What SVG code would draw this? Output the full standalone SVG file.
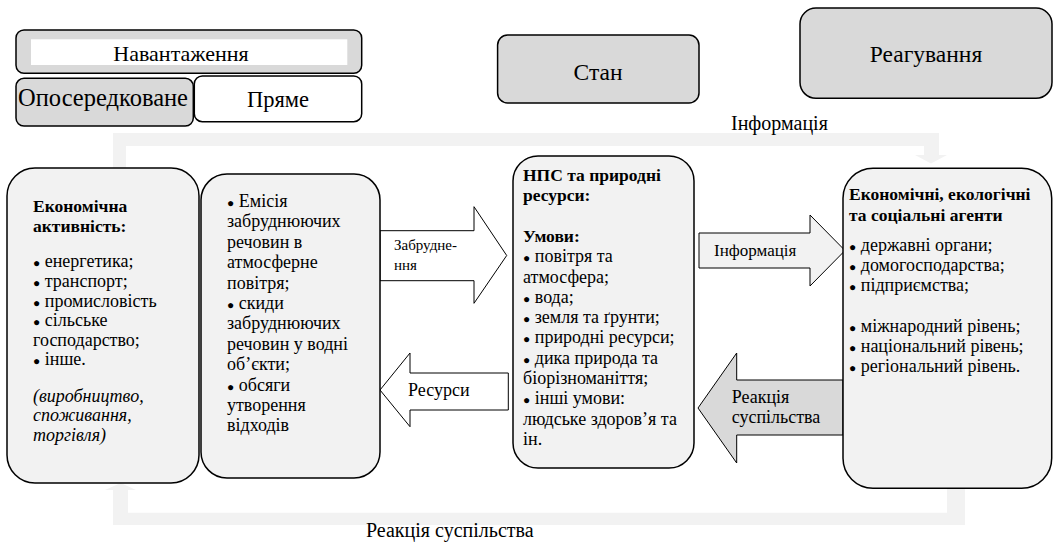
<svg xmlns="http://www.w3.org/2000/svg" width="1054" height="545" viewBox="0 0 1054 545" font-family="Liberation Serif, Times New Roman, serif">
<style>
.bx{fill:#f2f2f2;stroke:#000;stroke-width:1.5}
.gr{fill:#d9d9d9;stroke:#000;stroke-width:1.5}
.wh{fill:#fff;stroke:#000;stroke-width:1.5}
.ar{stroke:#000;stroke-width:1}
.con{fill:#f2f2f2;stroke:none}
.t{font-size:18px}
.bd{font-weight:bold;font-size:17.5px}
.it{font-style:italic}
.b{font-size:12px}
.h{text-anchor:middle}
</style>
<g id="connectors">
<path class="con" d="M113,133 H939 V155 H947 L931,163.5 L915,155 H924 V146 H126 V172 H113 Z"/>
<path class="con" d="M113,525 H965 V488 H947 V512.7 H128 V490 H136 L120.7,483 L105,490 H113 Z"/>
<text x="731" y="130" font-size="20">Інформація</text>
<text x="366" y="537" font-size="20">Реакція суспільства</text>
<g id="arrow-pollution">
<polygon class="ar" fill="#fff" points="380,230.7 474,230.7 474,206.7 506.7,255.5 474,303.3 474,280.7 380,280.7"/>
<text x="394" y="250" font-size="15">Забрудне-</text>
<text x="394" y="270" font-size="15">ння</text>
</g>
<g id="arrow-resources">
<polygon class="ar" fill="#fff" points="508.3,373 410,373 410,353 380,390 410,426.7 410,410 508.3,410"/>
<text class="t" x="408" y="396">Ресурси</text>
</g>
<g id="arrow-info">
<polygon class="ar" fill="#f2f2f2" points="699,233 810,233 810,215 845,250.5 810,286 810,268 699,268"/>
<text x="714" y="256" font-size="17">Інформація</text>
</g>
<g id="arrow-reaction">
<polygon class="ar" fill="#d9d9d9" points="843,380 736.7,380 736.7,353 698,408 736.7,463 736.7,435 843,435"/>
<text class="t" x="731.7" y="403">Реакція</text>
<text class="t" x="731.7" y="423">суспільства</text>
</g>
</g>
<g id="load">
<rect class="gr" x="16" y="30" width="345.7" height="43.3" rx="8"/>
<rect x="31" y="39.3" width="316.3" height="25.7" fill="#fff"/>
<text class="h" x="181" y="60.7" font-size="22">Навантаження</text>
</g>
<g id="indirect">
<rect class="gr" x="16" y="78.3" width="177.3" height="47.7" rx="8"/>
<text class="h" x="103" y="105.7" font-size="24.5">Опосередковане</text>
</g>
<g id="direct">
<rect class="wh" x="194.3" y="76" width="167.4" height="45.7" rx="8"/>
<text class="h" x="278" y="107.3" font-size="22.5">Пряме</text>
</g>
<g id="state">
<rect class="gr" x="497.6" y="35" width="201.4" height="68" rx="10"/>
<text class="h" x="598" y="80" font-size="23.5">Стан</text>
</g>
<g id="response">
<rect class="gr" x="800" y="8" width="252" height="90.3" rx="16"/>
<text class="h" x="926" y="61.7" font-size="23.5">Реагування</text>
</g>
<g id="economic-activity">
<rect class="bx" x="7" y="168" width="192" height="315" rx="28"/>
<text class="bd" x="33" y="211.7">Економічна</text>
<text class="bd" x="33" y="231.7">активність:</text>
<text class="t" x="33" y="267.3"><tspan class="b">●</tspan> енергетика;</text>
<text class="t" x="33" y="286.9"><tspan class="b">●</tspan> транспорт;</text>
<text class="t" x="33" y="306.5"><tspan class="b">●</tspan> промисловість</text>
<text class="t" x="33" y="326.1"><tspan class="b">●</tspan> сільське</text>
<text class="t" x="33" y="345.7">господарство;</text>
<text class="t" x="33" y="365.3"><tspan class="b">●</tspan> інше.</text>
<text class="t it" x="33" y="401.7">(виробництво,</text>
<text class="t it" x="33" y="421.3">споживання,</text>
<text class="t it" x="33" y="441">торгівля)</text>
</g>
<g id="pressures">
<rect class="bx" x="201" y="174" width="179" height="304" rx="26"/>
<text class="t" x="227" y="207"><tspan class="b">●</tspan> Емісія</text>
<text class="t" x="227" y="227.4">забруднюючих</text>
<text class="t" x="227" y="247.8">речовин в</text>
<text class="t" x="227" y="268.2">атмосферне</text>
<text class="t" x="227" y="288.6">повітря;</text>
<text class="t" x="227" y="309"><tspan class="b">●</tspan> скиди</text>
<text class="t" x="227" y="329.4">забруднюючих</text>
<text class="t" x="227" y="349.8">речовин у водні</text>
<text class="t" x="227" y="370.2">об’єкти;</text>
<text class="t" x="227" y="390.6"><tspan class="b">●</tspan> обсяги</text>
<text class="t" x="227" y="411">утворення</text>
<text class="t" x="227" y="431.4">відходів</text>
</g>
<g id="environment">
<rect class="bx" x="513" y="156" width="181" height="312" rx="25"/>
<text class="bd" x="523" y="181">НПС та природні</text>
<text class="bd" x="523" y="201.3">ресурси:</text>
<text class="bd" x="523" y="241.9">Умови:</text>
<text class="t" x="523" y="262.2"><tspan class="b">●</tspan> повітря та</text>
<text class="t" x="523" y="282.5">атмосфера;</text>
<text class="t" x="523" y="302.8"><tspan class="b">●</tspan> вода;</text>
<text class="t" x="523" y="323.1"><tspan class="b">●</tspan> земля та ґрунти;</text>
<text class="t" x="523" y="343.4"><tspan class="b">●</tspan> природні ресурси;</text>
<text class="t" x="523" y="363.7"><tspan class="b">●</tspan> дика природа та</text>
<text class="t" x="523" y="384">біорізноманіття;</text>
<text class="t" x="523" y="404.3"><tspan class="b">●</tspan> інші умови:</text>
<text class="t" x="523" y="424.6">людське здоров’я та</text>
<text class="t" x="523" y="444.9">ін.</text>
</g>
<g id="agents">
<rect class="bx" x="843" y="168.3" width="208.7" height="320" rx="30"/>
<text class="bd" x="849" y="200">Економічні, екологічні</text>
<text class="bd" x="849" y="221">та соціальні агенти</text>
<text class="t" x="849" y="251"><tspan class="b">●</tspan> державні органи;</text>
<text class="t" x="849" y="271"><tspan class="b">●</tspan> домогосподарства;</text>
<text class="t" x="849" y="291"><tspan class="b">●</tspan> підприємства;</text>
<text class="t" x="849" y="332"><tspan class="b">●</tspan> міжнародний рівень;</text>
<text class="t" x="849" y="352"><tspan class="b">●</tspan> національний рівень;</text>
<text class="t" x="849" y="372"><tspan class="b">●</tspan> регіональний рівень.</text>
</g>
</svg>
